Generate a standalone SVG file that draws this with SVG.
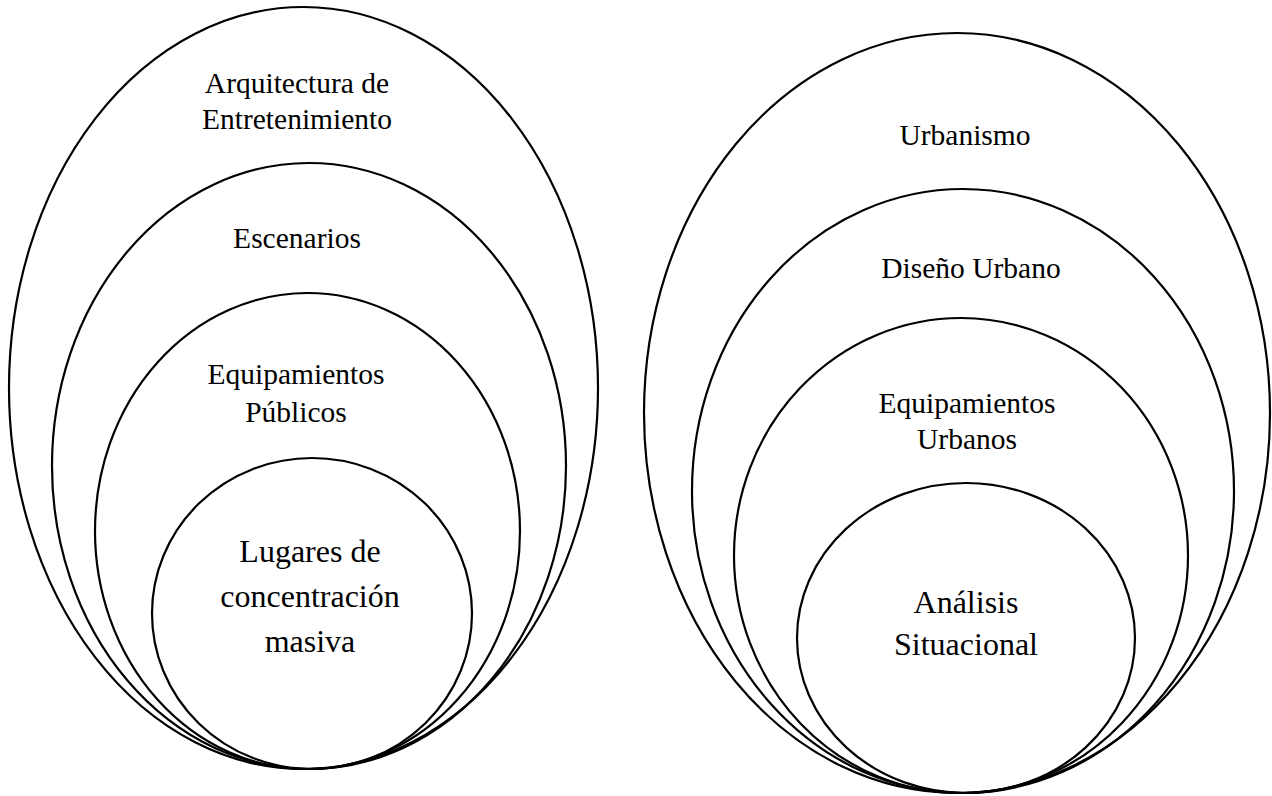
<svg xmlns="http://www.w3.org/2000/svg" width="1272" height="796" viewBox="0 0 1272 796">
<style>
.e{fill:none;stroke:#000;stroke-width:2.2}
.t{font-family:"Liberation Serif","Times New Roman",serif;font-size:29.5px;fill:#000;text-anchor:middle}
.b{font-size:32px}
</style>
<rect width="1272" height="796" fill="#fff"/>
<g id="left-set">
<g id="n-arquitectura"><ellipse class="e" cx="303.5" cy="388" rx="294.5" ry="381"/>
<text class="t" x="297" y="93">Arquitectura de</text><text class="t" x="297" y="129">Entretenimiento</text></g>
<g id="n-escenarios"><ellipse class="e" cx="309" cy="466" rx="257" ry="303"/>
<text class="t" x="297" y="248">Escenarios</text></g>
<g id="n-equip-publicos"><ellipse class="e" cx="307.5" cy="531" rx="212.5" ry="238"/>
<text class="t" x="296" y="384">Equipamientos</text><text class="t" x="296" y="422">Públicos</text></g>
<g id="n-lugares"><ellipse class="e" cx="312" cy="613.5" rx="160" ry="155.5"/>
<text class="t b" x="310" y="562">Lugares de</text><text class="t b" x="310" y="607">concentración</text><text class="t b" x="310" y="652">masiva</text></g>
</g>
<g id="right-set">
<g id="n-urbanismo"><ellipse class="e" cx="957" cy="413" rx="313" ry="380"/>
<text class="t" x="965" y="145">Urbanismo</text></g>
<g id="n-diseno"><ellipse class="e" cx="963" cy="491" rx="271" ry="302"/>
<text class="t" x="971" y="278">Diseño Urbano</text></g>
<g id="n-equip-urbanos"><ellipse class="e" cx="961" cy="555.5" rx="227" ry="237.5"/>
<text class="t" x="967" y="413">Equipamientos</text><text class="t" x="967" y="449">Urbanos</text></g>
<g id="n-analisis"><ellipse class="e" cx="966" cy="638" rx="169" ry="155"/>
<text class="t b" x="966" y="613">Análisis</text><text class="t b" x="966" y="655">Situacional</text></g>
</g>
<g id="connectors"/>
</svg>
